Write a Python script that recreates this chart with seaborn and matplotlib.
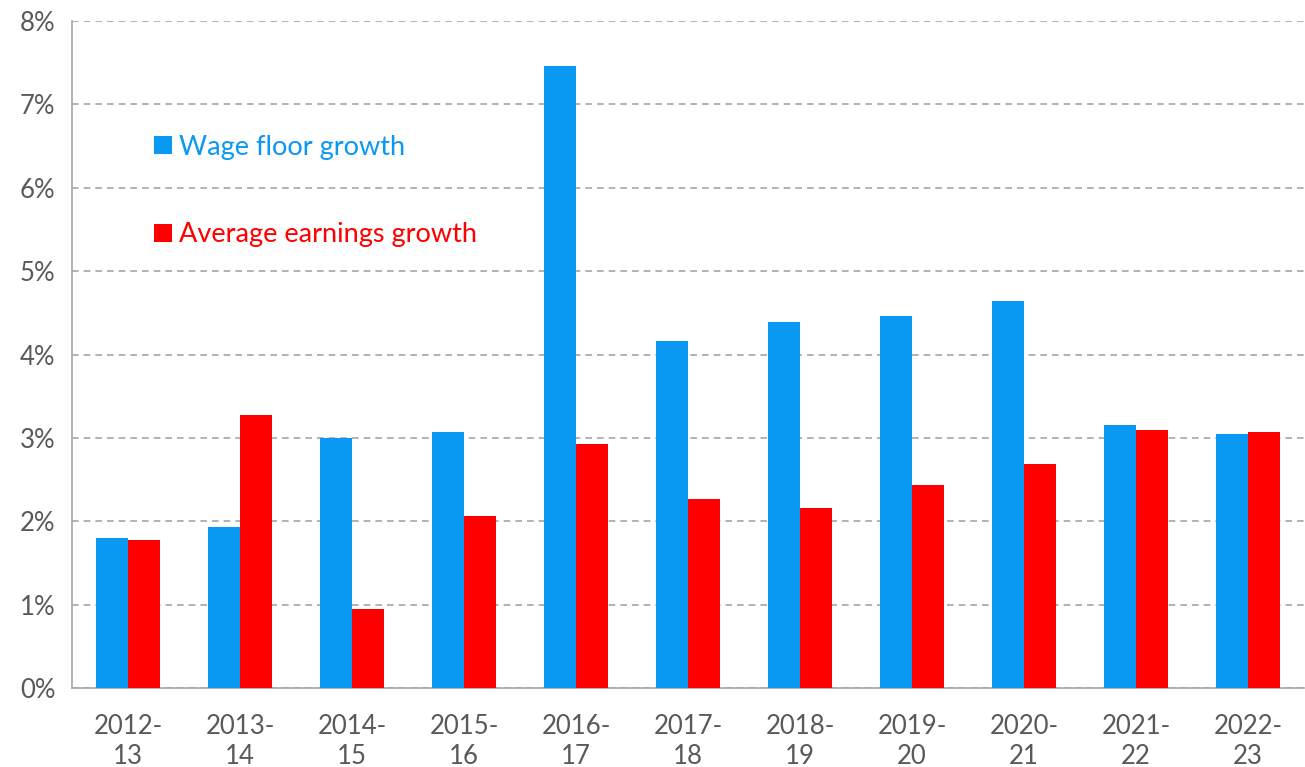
import pandas as pd
import matplotlib.pyplot as plt
import seaborn as sns
from matplotlib.ticker import FuncFormatter

# values (percent)
years = ["2012-\n13", "2013-\n14", "2014-\n15", "2015-\n16", "2016-\n17", "2017-\n18",
         "2018-\n19", "2019-\n20", "2020-\n21", "2021-\n22", "2022-\n23"]
wage_floor = [1.80, 1.93, 3.00, 3.07, 7.46, 4.16, 4.39, 4.46, 4.64, 3.15, 3.05]
avg_earnings = [1.77, 3.27, 0.95, 2.06, 2.93, 2.27, 2.16, 2.44, 2.69, 3.10, 3.07]
series_names = ["Wage floor growth", "Average earnings growth"]
colors = ["#0A99F2", "#FF0000"]

df = pd.DataFrame({
    "year": years * 2,
    "growth": wage_floor + avg_earnings,
    "series": [series_names[0]] * len(years) + [series_names[1]] * len(years),
})

sns.set_style("white")
plt.rcParams['font.family'] = ['Lato', 'DejaVu Sans']
text_grey = "#595959"

fig = plt.figure(figsize=(13.05, 7.67), dpi=100)
ax = fig.add_axes([0.0552, 0.103, 0.944, 0.8696])

sns.barplot(data=df, x="year", y="growth", hue="series", palette=colors,
            width=0.57, saturation=1, linewidth=0, ax=ax, zorder=3)

ax.set_ylim(0, 8)
ax.set_xlim(-0.5, len(years) - 0.5)
ax.set_yticks(range(0, 9))
ax.yaxis.set_major_formatter(FuncFormatter(lambda v, _: f"{int(v)}%"))
ax.grid(axis="y", linestyle=(0, (4, 3)), color="#A6A6A6", linewidth=1.2, zorder=0)
ax.set_xlabel("")
ax.set_ylabel("")

for side in ["top", "right"]:
    ax.spines[side].set_visible(False)
for side in ["left", "bottom"]:
    ax.spines[side].set_color("#A6A6A6")
    ax.spines[side].set_linewidth(1.2)
ax.tick_params(axis="y", length=8, color="#A6A6A6", labelsize=18.5, labelcolor=text_grey, pad=4)
ax.tick_params(axis="x", length=0, labelsize=18.5, labelcolor=text_grey, pad=19)
for lab in ax.get_xticklabels():
    lab.set_linespacing(1.25)

leg = ax.legend(loc="upper left", bbox_to_anchor=(0.047, 0.866), frameon=False,
                fontsize=19.5, handlelength=0.65, handleheight=0.65, handletextpad=0.25,
                labelspacing=2.3)
for txt, c in zip(leg.get_texts(), colors):
    txt.set_color(c)

fig.savefig("out.png", dpi=100)
